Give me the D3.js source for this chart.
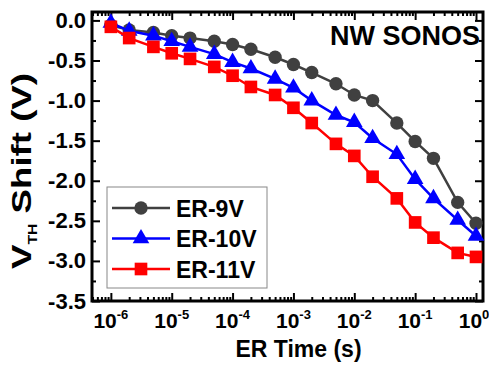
<!DOCTYPE html>
<html>
<head>
<meta charset="utf-8">
<script src="https://cdnjs.cloudflare.com/ajax/libs/d3/7.8.5/d3.min.js"></script>
<style>
	body {margin:0; background:#fff;}
	text {font-family: Arial, "Liberation Sans", sans-serif;}
</style>
</head>
<body>
<div id="chart"></div>
<script>
// erase time (s) and Vth shift (V)
var times = [1e-6, 2e-6, 5e-6, 1e-5, 2e-5, 5e-5, 1e-4, 2e-4, 5e-4, 1e-3, 2e-3, 5e-3, 1e-2, 2e-2, 5e-2, 0.1, 0.2, 0.5, 1];
var er9v  = [-0.06, -0.12, -0.15, -0.19, -0.22, -0.26, -0.30, -0.36, -0.46, -0.55, -0.65, -0.79, -0.93, -1.00, -1.28, -1.51, -1.72, -2.27, -2.53];
var er10v = [-0.03, -0.13, -0.19, -0.26, -0.33, -0.42, -0.52, -0.60, -0.73, -0.84, -1.00, -1.18, -1.27, -1.47, -1.67, -1.98, -2.22, -2.49, -2.69];
var er11v = [-0.08, -0.22, -0.33, -0.41, -0.48, -0.58, -0.69, -0.83, -0.93, -1.09, -1.28, -1.54, -1.69, -1.95, -2.22, -2.52, -2.71, -2.90, -2.95];
var seriesNames = ["ER-9V", "ER-10V", "ER-11V"];
var xTickExps = [-6, -5, -4, -3, -2, -1, 0];
var yTickVals = [0, -0.5, -1, -1.5, -2, -2.5, -3, -3.5];

var width = 489, height = 369;
var margin = {left:92, top:12, right:6, bottom:68};
var pw = width - margin.left - margin.right;
var ph = height - margin.top - margin.bottom;

var colors = ["#404040", "#0000ff", "#ff0000"];
var shapes = [d3.symbolCircle, d3.symbolTriangle, d3.symbolSquare];
var sizes = [140, 120, 160];

var x = d3.scaleLog()
	.domain([Math.pow(10, -6.31), Math.pow(10, 0.115)])
	.range([0, pw]);
var y = d3.scaleLinear()
	.domain([-3.5, 0.105])
	.range([ph, 0]);

var svg = d3.select('#chart').append('svg')
	.attr('width', width)
	.attr('height', height);
var g = svg.append('g')
	.attr('transform', 'translate(' + margin.left + ',' + margin.top + ')');

//ticks: majors + minors, all pointing inward, on all four sides
var xMajor = xTickExps.map(function(e) {return Math.pow(10, e);});
var xMinor = [];
for (var e = -7; e <= 0; e++) {
	for (var k = 2; k <= 9; k++) {
		var v = k * Math.pow(10, e);
		if (v > x.domain()[0] && v < x.domain()[1]) xMinor.push(v);
	}
}
var yMinor = d3.range(-3.25, 0.1, 0.5);

function tickStyle(sel) {
	sel.select('.domain').remove();
	sel.selectAll('line').attr('stroke', '#000').attr('stroke-width', 2);
}
g.append('g').attr('transform', 'translate(0,' + ph + ')')
	.call(d3.axisBottom(x).tickValues(xMajor).tickSize(-8).tickFormat('')).call(tickStyle);
g.append('g').attr('transform', 'translate(0,' + ph + ')')
	.call(d3.axisBottom(x).tickValues(xMinor).tickSize(-4).tickFormat('')).call(tickStyle);
g.append('g')
	.call(d3.axisTop(x).tickValues(xMajor).tickSize(-8).tickFormat('')).call(tickStyle);
g.append('g')
	.call(d3.axisTop(x).tickValues(xMinor).tickSize(-4).tickFormat('')).call(tickStyle);
g.append('g')
	.call(d3.axisLeft(y).tickValues(yTickVals).tickSize(-8).tickPadding(6)
		.tickFormat(function(d) {return d.toFixed(1);}))
	.call(tickStyle)
	.selectAll('text')
		.attr('font-size', 22)
		.attr('font-weight', 'bold')
		.attr('fill', '#000');
g.append('g')
	.call(d3.axisLeft(y).tickValues(yMinor).tickSize(-4).tickFormat('')).call(tickStyle);
g.append('g').attr('transform', 'translate(' + pw + ',0)')
	.call(d3.axisRight(y).tickValues(yTickVals).tickSize(-8).tickFormat('')).call(tickStyle);
g.append('g').attr('transform', 'translate(' + pw + ',0)')
	.call(d3.axisRight(y).tickValues(yMinor).tickSize(-4).tickFormat('')).call(tickStyle);

//x tick labels as 10^n
var xl = g.append('g').selectAll('text')
	.data(xTickExps)
	.enter().append('text')
	.attr('x', function(d) {return x(Math.pow(10, d)) - (d === 0 ? 2 : 0);})
	.attr('y', ph + 27)
	.attr('text-anchor', 'middle')
	.attr('font-weight', 'bold')
	.attr('font-size', 21);
xl.append('tspan').text('10');
xl.append('tspan')
	.attr('dy', -9)
	.attr('font-size', 13)
	.text(function(d) {return d;});

//frame
g.append('rect')
	.attr('width', pw)
	.attr('height', ph)
	.attr('fill', 'none')
	.attr('stroke', '#000')
	.attr('stroke-width', 3);

//series
var series = [er9v, er10v, er11v];
var line = d3.line()
	.x(function(d) {return x(d[0]);})
	.y(function(d) {return y(d[1]);});

series.forEach(function(vals, i) {
	var pts = times.map(function(t, j) {return [t, vals[j]];});
	g.append('path')
		.datum(pts)
		.attr('d', line)
		.attr('fill', 'none')
		.attr('stroke', colors[i])
		.attr('stroke-width', 2.5);
	g.append('g').selectAll('path')
		.data(pts)
		.enter().append('path')
		.attr('transform', function(d) {return 'translate(' + x(d[0]) + ',' + y(d[1]) + ')';})
		.attr('d', d3.symbol().type(shapes[i]).size(sizes[i]))
		.attr('fill', colors[i]);
});

g.append('text')
	.attr('x', pw - 3)
	.attr('y', 33)
	.attr('text-anchor', 'end')
	.attr('font-weight', 'bold')
	.attr('font-size', 27)
	.text('NW SONOS');

//legend
var lg = svg.append('g').attr('transform', 'translate(107,187)');
lg.append('rect')
	.attr('width', 160)
	.attr('height', 101)
	.attr('fill', '#fff')
	.attr('stroke', '#888')
	.attr('stroke-width', 1);
var item = lg.selectAll('.item')
	.data(seriesNames)
	.enter().append('g')
	.attr('class', 'item')
	.attr('transform', function(d, i) {return 'translate(0,' + (21 + i * 30.5) + ')';});
item.append('line')
	.attr('x1', 5).attr('x2', 63)
	.attr('stroke', function(d, i) {return colors[i];})
	.attr('stroke-width', 2.5);
item.append('path')
	.attr('transform', 'translate(34,0)')
	.attr('d', function(d, i) {return d3.symbol().type(shapes[i]).size(sizes[i])();})
	.attr('fill', function(d, i) {return colors[i];});
item.append('text')
	.attr('x', 69)
	.attr('y', 8.5)
	.attr('font-size', 23)
	.attr('font-weight', 'bold')
	.text(function(d) {return d;});

//axis titles
svg.append('text')
	.attr('x', margin.left + pw / 2 + 11)
	.attr('y', 357)
	.attr('text-anchor', 'middle')
	.attr('font-weight', 'bold')
	.attr('font-size', 23)
	.text('ER Time (s)');

var yt = svg.append('text')
	.attr('transform', 'translate(31,171) rotate(-90)')
	.attr('text-anchor', 'middle')
	.attr('font-weight', 'bold')
	.attr('font-size', 28)
	.attr('textLength', 196)
	.attr('lengthAdjust', 'spacingAndGlyphs');
yt.append('tspan').text('V');
yt.append('tspan').attr('dy', 6).attr('font-size', 12).text('TH');
yt.append('tspan').attr('dy', -6).text(' Shift (V)');
</script>
</body>
</html>
